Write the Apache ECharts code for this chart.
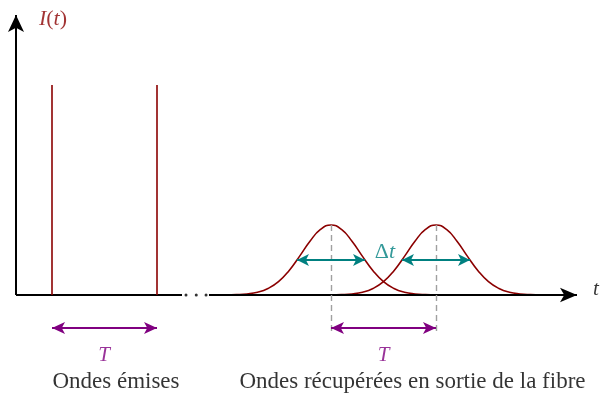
<!DOCTYPE html>
<html>
<head>
<meta charset="utf-8">
<script src="https://cdn.jsdelivr.net/npm/echarts@6/dist/echarts.min.js"></script>
<style>html,body{margin:0;padding:0;background:#fff}#c{width:606px;height:396px}</style>
</head>
<body>
<div id="c"></div>
<script>
// ---- data (time in units of the period T, intensity in units of the received peak) ----
const emittedTimes = [0.343, 1.343];
const emittedHeight = [3, 3];
const receivedCenters = [3, 4];
const shapeOffsets = [-1.0,-0.9,-0.8,-0.7,-0.6,-0.5,-0.4,-0.3,-0.2,-0.1,0,0.1,0.2,0.3,0.4,0.5,0.6,0.7,0.8,0.9,1.0];
const shapeValues  = [0.001,0.005,0.015,0.039,0.093,0.191,0.347,0.552,0.768,0.936,1,0.936,0.768,0.552,0.347,0.191,0.093,0.039,0.015,0.005,0.001];
const halfMaxLevel = 0.5;
const halfWidth = 0.324;
const xAxisSegments = [[0, 1.581], [1.838, 5.343]];
const xBreakDots = [1.619, 1.717, 1.810];
const yAxisRange = [0, 4];
const periodArrowLevel = -0.47;
const dashedBottom = -0.55;
const labelTexts = ['Ondes émises', 'Ondes récupérées en sortie de la fibre'];
const labelPos = [[0.952, -1.243], [3.776, -1.243]];
const periodLabelPos = [[0.838, -0.871], [3.5, -0.871]];
const deltaLabelPos = [3.514, 0.614];
const yTitlePos = [0.352, 3.943];
const xTitlePos = [5.524, 0.08];

const RED = '#8B0000', TEAL = '#008080', PURPLE = '#800080', GRAY = '#a0a0a0';
const FONT = '"Liberation Serif", "Times New Roman", serif';

function arrowEnd(coord, color, w, h) {
  return {coord: coord, symbol: 'arrow', symbolSize: [w, h], itemStyle: {color: color}};
}
function plainEnd(coord) { return {coord: coord, symbol: 'none'}; }

const gaussSeries = receivedCenters.map((c) => ({
  type: 'line', smooth: true, showSymbol: false, z: 4,
  lineStyle: {color: RED, width: 1.6},
  data: shapeOffsets.map((d, i) => [c + d, shapeValues[i]])
}));

function txt(extra) {
  return Object.assign({color: '#000', fontFamily: FONT, fontSize: 23, textBorderWidth: 0}, extra);
}

const option = {
  animation: false,
  grid: {left: 16, right: 29, top: 15, bottom: 3},
  xAxis: {type: 'value', min: 0, max: 5.343, show: false},
  yAxis: {type: 'value', min: -1.4, max: 4, show: false},
  series: [
    // axes
    {
      type: 'line', data: [], z: 2,
      markLine: {
        silent: true, animation: false, label: {show: false},
        lineStyle: {color: '#000', width: 2, type: 'solid'},
        data: [
          [plainEnd([0, yAxisRange[0]]), arrowEnd([0, yAxisRange[1]], '#000', 12, 17)],
          [plainEnd([xAxisSegments[0][0], 0]), plainEnd([xAxisSegments[0][1], 0])],
          [plainEnd([xAxisSegments[1][0], 0]), arrowEnd([xAxisSegments[1][1], 0], '#000', 11, 17)]
        ]
      }
    },
    {
      type: 'scatter', symbol: 'circle', symbolSize: 3, z: 2,
      itemStyle: {color: '#000'},
      data: xBreakDots.map((x) => [x, 0])
    },
    // emitted pulses
    {
      type: 'line', data: [], z: 3,
      markLine: {
        silent: true, animation: false, label: {show: false}, symbol: 'none',
        lineStyle: {color: RED, width: 1.6, type: 'solid'},
        data: emittedTimes.map((t, i) => [{coord: [t, 0]}, {coord: [t, emittedHeight[i]]}])
      }
    },
    ...gaussSeries,
    // dashed guides
    {
      type: 'line', data: [], z: 3,
      markLine: {
        silent: true, animation: false, label: {show: false}, symbol: 'none',
        lineStyle: {color: GRAY, width: 1.4, type: [6, 4]},
        data: receivedCenters.map((c) => [{coord: [c, 1]}, {coord: [c, dashedBottom]}])
      }
    },
    // half-max width arrows
    {
      type: 'line', data: [], z: 5,
      markLine: {
        silent: true, animation: false, label: {show: false},
        lineStyle: {color: TEAL, width: 1.8, type: 'solid'},
        data: receivedCenters.map((c) => [
          arrowEnd([c - halfWidth, halfMaxLevel], TEAL, 9, 12),
          arrowEnd([c + halfWidth, halfMaxLevel], TEAL, 9, 12)
        ])
      }
    },
    // period arrows
    {
      type: 'line', data: [], z: 5,
      markLine: {
        silent: true, animation: false, label: {show: false},
        lineStyle: {color: PURPLE, width: 1.8, type: 'solid'},
        data: [
          [arrowEnd([emittedTimes[0], periodArrowLevel], PURPLE, 9, 13), arrowEnd([emittedTimes[1], periodArrowLevel], PURPLE, 9, 13)],
          [arrowEnd([receivedCenters[0], periodArrowLevel], PURPLE, 9, 13), arrowEnd([receivedCenters[1], periodArrowLevel], PURPLE, 9, 13)]
        ]
      }
    },
    // texts
    {
      type: 'scatter', symbolSize: 0, clip: false, z: 6, silent: true,
      label: txt({show: true, position: 'inside'}),
      data: [
        {value: labelPos[0], label: txt({formatter: labelTexts[0]})},
        {value: labelPos[1], label: txt({formatter: labelTexts[1]})},
        {value: periodLabelPos[0], label: txt({formatter: 'T', color: PURPLE, fontStyle: 'italic', fontSize: 21})},
        {value: periodLabelPos[1], label: txt({formatter: 'T', color: PURPLE, fontStyle: 'italic', fontSize: 21})},
        {value: deltaLabelPos, label: txt({formatter: '{a|Δ}{b|t}', color: TEAL,
          rich: {a: txt({color: TEAL, fontSize: 22}), b: txt({color: TEAL, fontSize: 22, fontStyle: 'italic'})}})},
        {value: yTitlePos, label: txt({formatter: '{b|I}{a|(}{b|t}{a|)}', color: RED,
          rich: {a: txt({color: RED, fontSize: 22}), b: txt({color: RED, fontSize: 22, fontStyle: 'italic'})}})},
        {value: xTitlePos, label: txt({formatter: 't', fontStyle: 'italic', fontSize: 21})}
      ]
    }
  ]
};
const chart = echarts.init(document.getElementById('c'));
chart.setOption(option);
</script>
</body>
</html>
